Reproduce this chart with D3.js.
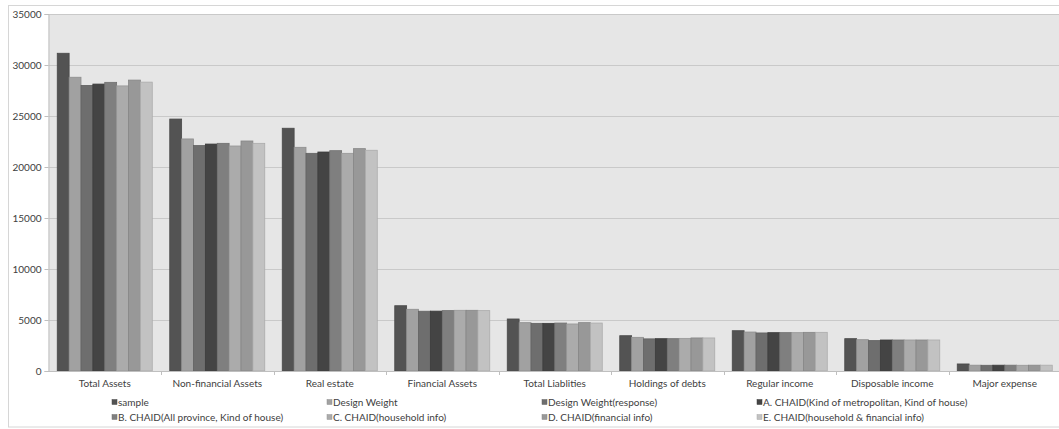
<!DOCTYPE html>
<html>
<head>
<meta charset="utf-8">
<script src="https://cdn.jsdelivr.net/npm/d3@7"></script>
<style>
  html, body { margin: 0; padding: 0; background: #ffffff; }
  svg { display: block; }
  text { font-family: Lato, "Open Sans", sans-serif; fill: #404040; }
</style>
</head>
<body>
<svg id="chart" width="1059" height="429"></svg>
<script>
// ---- Data ----
const categories = ["Total Assets", "Non-financial Assets", "Real estate", "Financial Assets",
  "Total Liablities", "Holdings of debts", "Regular income", "Disposable income", "Major expense"];

const seriesNames = ["sample", "Design Weight", "Design Weight(response)",
  "A. CHAID(Kind of metropolitan, Kind of house)", "B. CHAID(All province, Kind of house)",
  "C. CHAID(household info)", "D. CHAID(financial info)", "E. CHAID(household & financial info)"];

const sample        = [31150, 24700, 23800, 6400, 5100, 3460, 3950, 3170, 690];
const designWeight  = [28800, 22750, 21930, 6050, 4740, 3300, 3820, 3070, 570];
const designWeightR = [28000, 22100, 21340, 5860, 4670, 3150, 3730, 2980, 560];
const chaidA        = [28130, 22250, 21470, 5870, 4670, 3170, 3760, 3040, 570];
const chaidB        = [28300, 22320, 21600, 5920, 4700, 3170, 3760, 3040, 570];
const chaidC        = [27950, 22060, 21340, 5950, 4610, 3200, 3760, 3040, 560];
const chaidD        = [28520, 22550, 21800, 5950, 4740, 3240, 3790, 3040, 570];
const chaidE        = [28320, 22320, 21640, 5920, 4700, 3240, 3790, 3040, 570];

const seriesValues = [sample, designWeight, designWeightR, chaidA, chaidB, chaidC, chaidD, chaidE];
const seriesColors = ["#535353", "#a1a1a1", "#6e6e6e", "#444444", "#7f7f7f", "#ababab", "#989898", "#c2c2c2"];
const yTicks = [0, 5000, 10000, 15000, 20000, 25000, 30000, 35000];

// ---- Layout ----
const svg = d3.select("#chart");
const plotLeft = 48.5, plotTop = 14, plotBottom = 371;
const groupW = 112.5;
const plotRight = plotLeft + groupW * categories.length;
const barGap = 17.5;

// outer border
svg.append("rect")
  .attr("x", 8.5).attr("y", 5.5)
  .attr("width", 1100).attr("height", 421.5)
  .attr("fill", "#ffffff").attr("stroke", "#d6d6d6").attr("stroke-width", 1);

const x0 = d3.scaleBand().domain(categories).range([plotLeft, plotRight]).paddingInner(0).paddingOuter(0);
const x1 = d3.scaleBand().domain(d3.range(seriesNames.length))
  .range([barGap / 2, groupW - barGap / 2]).paddingInner(0).paddingOuter(0);
const y = d3.scaleLinear().domain([0, 35000]).range([plotBottom, plotTop]);

// plot background
svg.append("rect")
  .attr("x", plotLeft).attr("y", plotTop)
  .attr("width", plotRight - plotLeft).attr("height", plotBottom - plotTop)
  .attr("fill", "#e6e6e6");

// gridlines
svg.append("g").selectAll("line").data(yTicks.filter(d => d > 0)).join("line")
  .attr("x1", plotLeft).attr("x2", plotRight)
  .attr("y1", d => Math.round(y(d)) + 0.5).attr("y2", d => Math.round(y(d)) + 0.5)
  .attr("stroke", "#c9c9c9").attr("stroke-width", 1);

// bars
const groups = svg.append("g").selectAll("g").data(categories).join("g")
  .attr("transform", d => `translate(${x0(d)},0)`);

groups.selectAll("rect")
  .data((c, ci) => seriesValues.map((vals, si) => ({ si, v: vals[ci] })))
  .join("rect")
  .attr("x", d => x1(d.si))
  .attr("y", d => y(d.v))
  .attr("width", x1.bandwidth())
  .attr("height", d => y(0) - y(d.v))
  .attr("fill", d => seriesColors[d.si])
  .attr("stroke", d => d3.color(seriesColors[d.si]).darker(0.35))
  .attr("stroke-width", 0.8);

// y axis
const yAxis = d3.axisLeft(y).tickValues(yTicks).tickSize(4).tickPadding(3).tickFormat(d3.format("d"));
const yG = svg.append("g").attr("transform", `translate(${plotLeft},0)`).call(yAxis);
yG.select(".domain").attr("stroke", "#bfbfbf");
yG.selectAll(".tick line").attr("stroke", "#bfbfbf");
yG.selectAll("text").attr("font-size", 10).attr("fill", "#404040").style("font-family", "Lato, 'Open Sans', sans-serif");

// x axis
const xAxis = d3.axisBottom(x0).tickSize(0).tickPadding(9);
const xG = svg.append("g").attr("transform", `translate(0,${plotBottom})`).call(xAxis);
xG.select(".domain").attr("stroke", "#bfbfbf");
xG.selectAll("text").attr("font-size", 10).attr("fill", "#404040").style("font-family", "Lato, 'Open Sans', sans-serif");
// boundary ticks between groups
xG.append("g").selectAll("line").data(categories.slice(1)).join("line")
  .attr("x1", d => Math.round(x0(d)) + 0.5).attr("x2", d => Math.round(x0(d)) + 0.5)
  .attr("y1", 0).attr("y2", 4)
  .attr("stroke", "#bfbfbf");

// legend
const legendCols = [112, 327, 542, 757];
const legendRows = [402, 417];
const legend = svg.append("g").selectAll("g").data(seriesNames).join("g")
  .attr("transform", (d, i) => `translate(${legendCols[i % 4]},${legendRows[Math.floor(i / 4)]})`);
legend.append("rect")
  .attr("x", 0).attr("y", -2.5).attr("width", 5).attr("height", 5)
  .attr("fill", (d, i) => seriesColors[i])
  .attr("stroke", (d, i) => d3.color(seriesColors[i]).darker(0.35)).attr("stroke-width", 0.5);
legend.append("text")
  .attr("x", 6).attr("y", 0).attr("dy", "0.35em")
  .attr("font-size", 10)
  .text(d => d);
</script>
</body>
</html>
